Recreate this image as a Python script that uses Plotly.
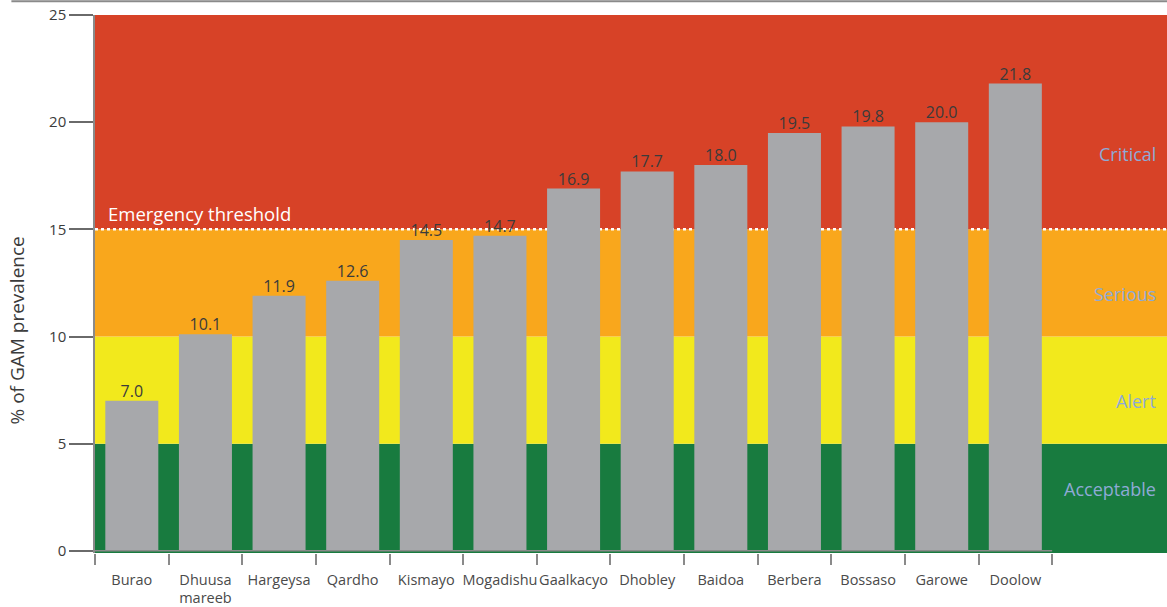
import plotly.graph_objects as go

categories = ["Burao", "Dhuusa<br>mareeb", "Hargeysa", "Qardho", "Kismayo", "Mogadishu",
              "Gaalkacyo", "Dhobley", "Baidoa", "Berbera", "Bossaso", "Garowe", "Doolow"]
gam_values = [7.0, 10.1, 11.9, 12.6, 14.5, 14.7, 16.9, 17.7, 18.0, 19.5, 19.8, 20.0, 21.8]

band_names = ["Acceptable", "Alert", "Serious", "Critical"]
band_lower = [-0.1, 5, 10, 15]
band_upper = [5, 10, 15, 25]
band_colors = ["#187b3f", "#f2e91c", "#f9a71c", "#d74227"]
band_label_y = [2.9, 7.0, 12.0, 18.5]

threshold = 15
y_ticks = [0, 5, 10, 15, 20, 25]

FONT = "Open Sans"

fig = go.Figure()
fig.add_trace(go.Bar(
    x=categories, y=gam_values,
    marker=dict(color="#a7a8ab", line=dict(width=0)),
    width=0.72,
    hoverinfo="x+y",
))
fig.add_trace(go.Scatter(
    x=categories, y=gam_values,
    mode="text",
    text=[f"{v:.1f}" for v in gam_values],
    textposition="top center",
    textfont=dict(family=FONT, size=16, color="#3b3b3b"),
    cliponaxis=False,
    hoverinfo="skip",
))

shapes = []
for lo, hi, c in zip(band_lower, band_upper, band_colors):
    shapes.append(dict(type="rect", xref="paper", yref="y", x0=0, x1=1, y0=lo, y1=hi,
                       fillcolor=c, line=dict(width=0), layer="below"))
shapes.append(dict(type="line", xref="paper", yref="y", x0=0, x1=1, y0=threshold, y1=threshold,
                   line=dict(color="white", width=2.5, dash="dot"), layer="below"))
# x axis baseline only under the categories
shapes.append(dict(type="line", xref="x", yref="y", x0=-0.5, x1=len(categories) - 0.5, y0=0, y1=0,
                   line=dict(color="#8a8a8a", width=1.5)))
# top page rule
shapes.append(dict(type="line", xref="paper", yref="paper", x0=-0.078, x1=1, y0=1.0255, y1=1.0255,
                   line=dict(color="#8a8a8a", width=2)))

annotations = []
for name, ly in zip(band_names, band_label_y):
    annotations.append(dict(xref="paper", yref="y", x=0.9916, y=ly, text=name, showarrow=False,
                            xanchor="right", yanchor="middle",
                            font=dict(family=FONT, size=18, color="#8eaad6")))
annotations.append(dict(xref="paper", yref="y", x=0.010, y=threshold, text="Emergency threshold",
                        showarrow=False, xanchor="left", yanchor="bottom", yshift=1,
                        font=dict(family=FONT, size=18.5, color="white")))
annotations.append(dict(xref="paper", yref="paper", x=-0.0723, y=0.4145, text="% of GAM prevalence",
                        showarrow=False, textangle=-90, xanchor="center", yanchor="middle",
                        font=dict(family=FONT, size=19, color="#3b3b3b")))

fig.update_layout(
    width=1167, height=607,
    margin=dict(l=95, r=0, t=15, b=54),
    paper_bgcolor="white", plot_bgcolor="white",
    showlegend=False,
    bargap=0.28,
    shapes=shapes,
    annotations=annotations,
    xaxis=dict(
        type="category",
        range=[-0.5, 14.06],
        tickson="boundaries",
        tickangle=0,
        automargin=False,
        ticks="outside", ticklen=11, tickcolor="#8a8a8a", tickwidth=1.5,
        ticklabelstandoff=16,
        showline=False, showgrid=False, zeroline=False,
        tickfont=dict(family=FONT, size=14.5, color="#4a4a4a"),
        fixedrange=True,
    ),
    yaxis=dict(
        range=[-0.1, 25],
        tickvals=y_ticks,
        automargin=False,
        ticks="outside", ticklen=24, tickcolor="#6a6a6a", tickwidth=1.5,
        showline=True, linecolor="#8a8a8a", linewidth=1.5,
        showgrid=False, zeroline=False,
        tickfont=dict(family=FONT, size=15, color="#3b3b3b"),
        fixedrange=True,
    ),
)

fig.write_html("out.html", config={"displayModeBar": False},
               post_script="document.body.style.margin='0';")
